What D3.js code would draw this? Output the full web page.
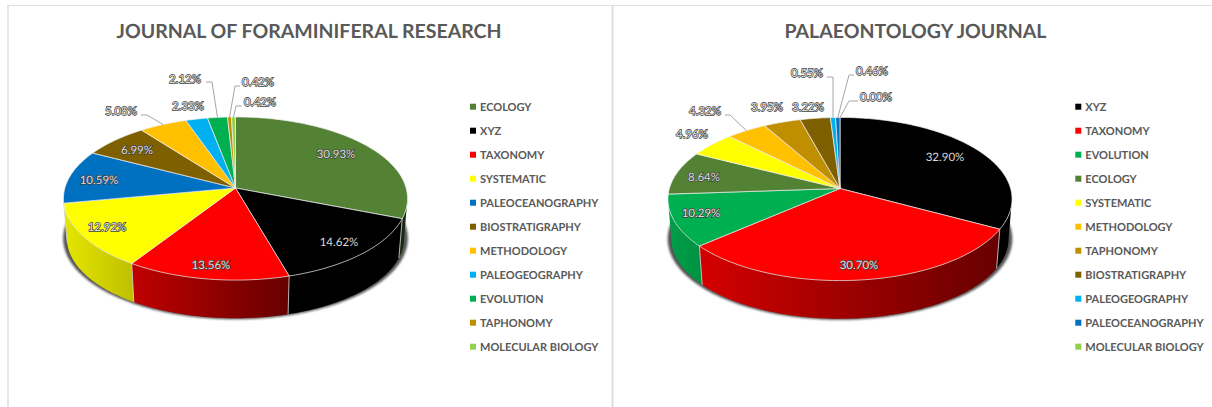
<!DOCTYPE html>
<html>
<head>
<meta charset="utf-8">
<script src="https://cdnjs.cloudflare.com/ajax/libs/d3/7.8.5/d3.min.js"></script>
<style>
  body { margin: 0; background: #fff; }
  text { font-family: Lato, "Open Sans", sans-serif; text-rendering: geometricPrecision; }
</style>
</head>
<body>
<div id="chart"></div>
<script>
// Left chart
const forCategories = ["ECOLOGY", "XYZ", "TAXONOMY", "SYSTEMATIC", "PALEOCEANOGRAPHY", "BIOSTRATIGRAPHY",
    "METHODOLOGY", "PALEOGEOGRAPHY", "EVOLUTION", "TAPHONOMY", "MOLECULAR BIOLOGY"];
const forValues = [30.93, 14.62, 13.56, 12.92, 10.59, 6.99, 5.08, 2.33, 2.12, 0.42, 0.42];

// Right chart
const palCategories = ["XYZ", "TAXONOMY", "EVOLUTION", "ECOLOGY", "SYSTEMATIC", "METHODOLOGY",
    "TAPHONOMY", "BIOSTRATIGRAPHY", "PALEOGEOGRAPHY", "PALEOCEANOGRAPHY", "MOLECULAR BIOLOGY"];
const palValues = [32.90, 30.70, 10.29, 8.64, 4.96, 4.32, 3.95, 3.22, 0.55, 0.46, 0.00];

const colorDomain = ["ECOLOGY", "XYZ", "TAXONOMY", "SYSTEMATIC", "PALEOCEANOGRAPHY", "BIOSTRATIGRAPHY",
    "METHODOLOGY", "PALEOGEOGRAPHY", "EVOLUTION", "TAPHONOMY", "MOLECULAR BIOLOGY"];
const colorRange = ["#548235", "#000000", "#ff0000", "#ffff00", "#0070c0", "#7f6000",
    "#ffc000", "#00b0f0", "#00b050", "#bf8f00", "#92d050"];
const color = d3.scaleOrdinal().domain(colorDomain).range(colorRange);

// Label spots, slice order: label centre, then optional leader start and knee
const forLabels = [
    {at: [336, 154]}, {at: [339, 242]}, {at: [211, 265]}, {at: [107, 227]}, {at: [99, 180]}, {at: [137, 150]},
    {at: [121, 111], from: [141, 115], knee: [147, 115]},
    {at: [188, 106]},
    {at: [185, 79], from: [206, 82], knee: [212, 82]},
    {at: [258, 82], from: [240, 86], knee: [235, 86]},
    {at: [260, 102], from: [242, 106], knee: [236, 106]}
];
const palLabels = [
    {at: [945, 157]}, {at: [859, 265]}, {at: [701, 213]}, {at: [704, 177]}, {at: [692, 134]},
    {at: [705, 111], from: [725, 115], knee: [730, 115]},
    {at: [767, 107]}, {at: [808, 107]},
    {at: [807, 73], from: [827, 77], knee: [833, 77]},
    {at: [872, 71], from: [854, 75], knee: [849, 75]},
    {at: [876, 97], from: [858, 101], knee: [849, 101]}
];

const svg = d3.select("#chart").append("svg")
    .attr("width", 1212)
    .attr("height", 407)
    .style("display", "block");

const defs = svg.append("defs");
defs.append("filter").attr("id", "soft")
    .attr("x", "-10%").attr("y", "-10%").attr("width", "120%").attr("height", "120%")
    .append("feGaussianBlur").attr("stdDeviation", 1.1);

// Panel frame
const frame = svg.append("g").attr("stroke", "#dedede").attr("fill", "none");
frame.append("line").attr("x1", 8).attr("x2", 1212).attr("y1", 5.5).attr("y2", 5.5).attr("stroke-width", 1.2);
frame.append("line").attr("x1", 8).attr("x2", 8).attr("y1", 5).attr("y2", 407).attr("stroke-width", 1.5);
frame.append("line").attr("x1", 612.5).attr("x2", 612.5).attr("y1", 5).attr("y2", 407).attr("stroke-width", 2);

const tilt = {rx: 170.6, ry: 80.2, k: 0.129, depth: 40, shrink: 0.98};
const shadeAt = d3.scaleLinear().domain([-1, -0.7, -0.6, 1]).range([0.9, 0.78, 0.75, 0.3]).clamp(true);
let gradCount = 0;

drawPie({
    title: "JOURNAL OF FORAMINIFERAL RESEARCH", titleX: 309, titleY: 37.5,
    categories: forCategories, values: forValues, labels: forLabels,
    cx: 235.5, cy: 188, legendX: 470
});
drawPie({
    title: "PALAEONTOLOGY JOURNAL", titleX: 915.5, titleY: 38,
    categories: palCategories, values: palValues, labels: palLabels,
    cx: 840, cy: 188.5, legendX: 1075.3
});

function drawPie(o) {
    const g = svg.append("g");

    // Perspective projection of a point on the unit circle, a = clockwise from the top
    const top = (a, r = 1) => {
        const u = Math.sin(a) * r, v = Math.cos(a) * r, w = 1 + tilt.k * v;
        return [o.cx + tilt.rx * u / w, o.cy - tilt.ry * v / w];
    };
    const bottom = a => {
        const p = top(a);
        return [o.cx + (p[0] - o.cx) * tilt.shrink,
                o.cy + tilt.depth + (p[1] - o.cy) * tilt.shrink];
    };
    const deg = Math.PI / 180;
    const arcPoints = (a0, a1) => {
        const n = Math.max(1, Math.ceil((a1 - a0) / deg));
        return d3.range(n + 1).map(i => a0 + (a1 - a0) * i / n);
    };
    const line = d3.line();

    const slices = d3.pie().sort(null).startAngle(0).endAngle(2 * Math.PI)
        .value(d => d.value)(o.categories.map((c, i) => ({name: c, value: o.values[i], label: o.labels[i]})));

    // Shadow below the disc
    const ring = arcPoints(0, 2 * Math.PI).map(bottom);
    g.append("path")
        .attr("d", line(ring) + "Z")
        .attr("transform", `translate(${o.cx},${o.cy + tilt.depth}) scale(1.022,1.012) translate(${-o.cx},${-(o.cy + tilt.depth)})`)
        .attr("fill", "#555")
        .attr("filter", "url(#soft)");

    // Side wall, only the part facing the viewer
    const wallStart = 97 * deg, wallEnd = 262 * deg;
    slices.forEach(s => {
        const a0 = Math.max(s.startAngle, wallStart), a1 = Math.min(s.endAngle, wallEnd);
        if (a1 <= a0) return;
        const angles = arcPoints(a0, a1);
        const upper = angles.map(a => top(a));
        const lower = angles.map(bottom).reverse();
        const xs = upper.map(p => p[0]).concat(lower.map(p => p[0]));
        const xL = d3.min(xs), xR = d3.max(xs);
        const shadeL = shadeAt((xL - o.cx) / tilt.rx);
        const shadeR = xR > o.cx ? Math.min(shadeL, 0.4) : shadeAt((xR - o.cx) / tilt.rx);
        const base = d3.rgb(color(s.data.name));
        const id = "wall" + (gradCount++);
        const grad = defs.append("linearGradient").attr("id", id)
            .attr("gradientUnits", "userSpaceOnUse")
            .attr("x1", xL).attr("x2", xR).attr("y1", 0).attr("y2", 0);
        [[0, shadeL], [1, shadeR]].forEach(([off, sh]) => {
            grad.append("stop").attr("offset", off)
                .attr("stop-color", d3.rgb(base.r * sh, base.g * sh, base.b * sh).formatHex());
        });
        g.append("path")
            .attr("d", line(upper.concat(lower)) + "Z")
            .attr("fill", `url(#${id})`);
    });
    // Light edges between the wall pieces
    slices.forEach(s => {
        const a = s.endAngle;
        if (a < 97 * deg || a > 262 * deg) return;
        g.append("path").attr("d", line([top(a), bottom(a)]))
            .attr("stroke", "#d8d8d8").attr("stroke-width", 0.8).attr("fill", "none");
    });

    // Top face
    slices.forEach(s => {
        if (s.endAngle - s.startAngle <= 0) return;
        const pts = [[o.cx, o.cy]].concat(arcPoints(s.startAngle, s.endAngle).map(a => top(a)));
        g.append("path")
            .attr("d", line(pts) + "Z")
            .attr("fill", color(s.data.name))
            .attr("stroke", "#f0f0f0")
            .attr("stroke-width", 0.7)
            .attr("stroke-linejoin", "round");
    });

    // Leader lines
    slices.forEach(s => {
        const l = s.data.label;
        if (!l.from) return;
        const mid = (s.startAngle + s.endAngle) / 2;
        g.append("path")
            .attr("d", line([l.from, l.knee, top(mid)]))
            .attr("stroke", "#a6a6a6").attr("stroke-width", 1).attr("fill", "none");
    });

    // Data labels, the ones on black have no visible outline in the original
    g.selectAll("text.value")
        .data(slices)
        .enter()
        .append("text")
        .attr("class", "value")
        .attr("x", d => d.data.label.at[0])
        .attr("y", d => d.data.label.at[1] + 4)
        .attr("text-anchor", "middle")
        .attr("font-size", 11.5)
        .attr("fill", d => d.data.name === "XYZ" ? "#d9d9d9" : "#dedede")
        .attr("stroke", d => d.data.name === "XYZ" ? "none" : "#404040")
        .attr("stroke-width", 1.3)
        .attr("paint-order", "stroke")
        .text(d => d.data.value.toFixed(2) + "%");

    // Title
    g.append("text")
        .attr("x", o.titleX)
        .attr("y", o.titleY)
        .attr("text-anchor", "middle")
        .attr("font-size", 19.5)
        .attr("font-weight", 700)
        .attr("fill", "#595959")
        .text(o.title);

    // Legend
    const legendY = d3.scalePoint().domain(o.categories).range([106.7, 346.7]);
    const legend = g.selectAll("g.legend")
        .data(o.categories)
        .enter()
        .append("g")
        .attr("class", "legend")
        .attr("transform", d => `translate(${o.legendX},${legendY(d)})`);
    legend.append("rect")
        .attr("x", 0).attr("y", -3)
        .attr("width", 6).attr("height", 6)
        .attr("fill", d => color(d));
    legend.append("text")
        .attr("x", 10)
        .attr("y", 4)
        .attr("font-size", 11)
        .attr("font-weight", 700)
        .attr("fill", "#595959")
        .text(d => d);
}
</script>
</body>
</html>
